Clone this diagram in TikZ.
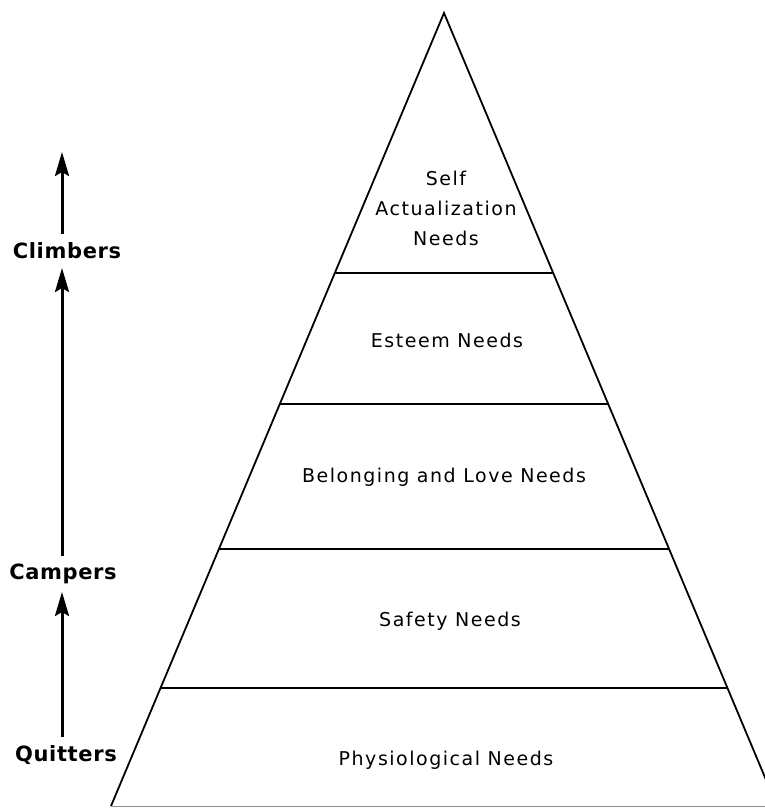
\documentclass[tikz,border=0pt]{standalone}
\usepackage{fontspec}
\setmainfont{DejaVu Sans}
\newfontfamily\levelfont[LetterSpace=8]{DejaVu Sans}
\newfontfamily\sidefont[LetterSpace=3]{DejaVu Sans}
\usetikzlibrary{arrows.meta}
\begin{document}
\begin{tikzpicture}[x=1pt,y=-1pt,
  level/.style={font=\levelfont\fontsize{19}{30}\selectfont, align=center, inner sep=0pt},
  side/.style={font=\sidefont\bfseries\fontsize{21}{24}\selectfont, inner sep=0pt},
  edge/.style={line width=1.8pt},
  tier/.style={line width=1.9pt},
  climb/.style={line width=3pt, -{Stealth[length=24pt,width=14pt,inset=4pt]}}]
\useasboundingbox (0,0) rectangle (765,808);
\clip (0,0) rectangle (765,808);
% pyramid
\coordinate (apex) at (444,13);
\coordinate (bl) at (111,806);
\coordinate (br) at (777,806);
\draw[edge] (bl) -- (apex) -- (br);
\draw[line width=1pt, black!45] (bl) -- (br);
\foreach \y [count=\i] in {273,404,549,688}{
  \pgfmathsetmacro\dx{0.42*(\y-13)}
  \coordinate (l\i) at (444-\dx,\y);
  \coordinate (r\i) at (444+\dx,\y);
  \draw[tier] (l\i) -- (r\i);
}
% level labels
\node[level] (self) at (446,208) {Self\\Actualization\\Needs};
\node[level] (esteem) at (447,340) {Esteem Needs};
\node[level] (belong) at (444,477) {Belonging and Love Needs};
\node[level] (safety) at (450,621) {Safety Needs};
\node[level] (phys) at (446,760) {Physiological Needs};
% side labels
\node[side] (climbers) at (67,251) {Climbers};
\node[side] (campers) at (63,574) {Campers};
\node[side] (quitters) at (66,755) {Quitters};
% arrows
\coordinate (t1) at (62,152);
\coordinate (b1) at (62,234);
\coordinate (t2) at (62,268);
\coordinate (b2) at (62,556);
\coordinate (t3) at (62,592);
\coordinate (b3) at (62,737);
\draw[climb] (b1) -- (t1);
\draw[climb] (b2) -- (t2);
\draw[climb] (b3) -- (t3);
\end{tikzpicture}
\end{document}
